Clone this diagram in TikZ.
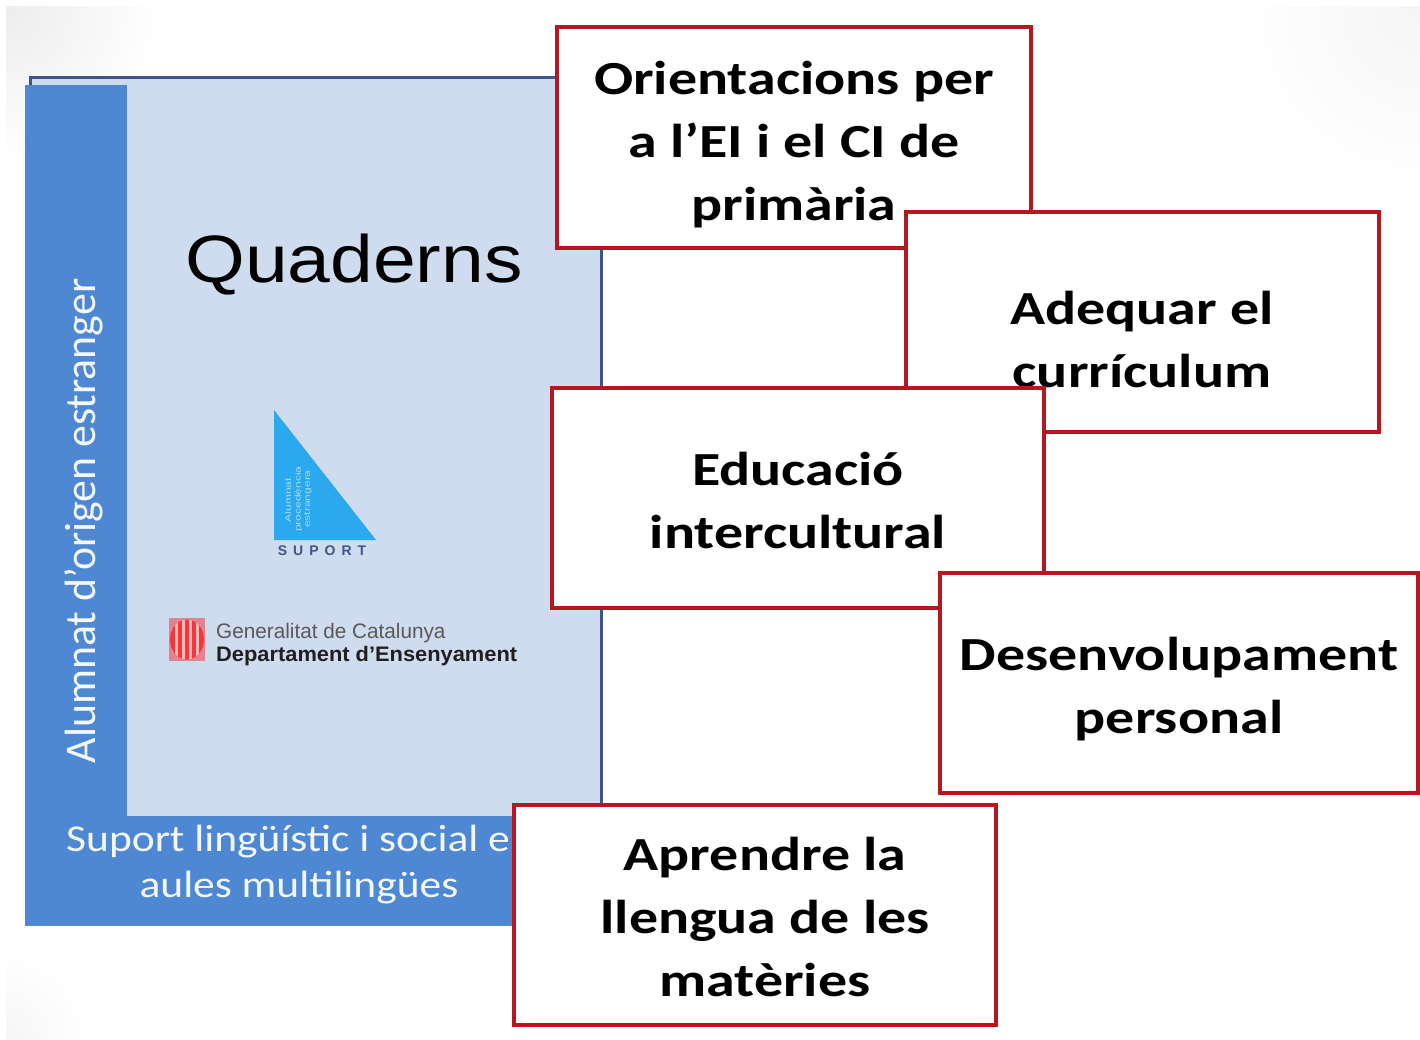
\documentclass[tikz,border=0pt]{standalone}
\usepackage{fontspec}
\setmainfont{Carlito}
\newfontfamily\boxf[FakeStretch=1.22]{Carlito}
\newfontfamily\panelf[FakeStretch=1.145]{Carlito}
\newfontfamily\quadf[FakeStretch=1.147]{Liberation Sans}
\newfontfamily\genf[FakeStretch=0.987]{Liberation Sans}
\newfontfamily\depf[FakeStretch=1.04]{Liberation Sans}
\newfontfamily\arialf{Liberation Sans}
\newfontfamily\tinyf[FakeStretch=1.5]{Liberation Sans}
\definecolor{panelblue}{HTML}{4F88D2}
\definecolor{panellight}{HTML}{CFDBEE}
\definecolor{edgeblue}{HTML}{3F5489}
\definecolor{boxred}{HTML}{B5161F}
\definecolor{triblue}{HTML}{2BA9EE}
\definecolor{cornergrey}{HTML}{EDEDED}
\definecolor{cornerpale}{HTML}{F5F5F5}
\tikzset{
  redbox/.style={draw=boxred,line width=3.3pt,fill=white,inner sep=0pt,rectangle},
  boxtext/.style={font=\boxf\fontsize{47.5}{63}\selectfont\bfseries,text=black,align=center,inner sep=0pt},
  paneltext/.style={font=\panelf\fontsize{38}{47}\selectfont,text=white!93!panelblue,inner sep=0pt},
  tinytext/.style={font=\tinyf\fontsize{8}{9}\selectfont,text=white!60!triblue,rotate=90,inner sep=0pt},
  edgeline/.style={draw=edgeblue,line width=3pt},
  cornerfade/.style={inner color=cornergrey,outer color=white},
  palefade/.style={inner color=cornerpale,outer color=white}
}
\begin{document}
\begin{tikzpicture}[x=1pt,y=-1pt]
\useasboundingbox (0,0) rectangle (1420,1040);
\fill[white] (0,0) rectangle (1420,1040);
\begin{scope}
  \clip (6,7) rectangle (1420,1040);
  \shade[cornerfade] (-140,-140) rectangle (160,160);
  \shade[palefade] (1240,-170) rectangle (1600,190);
  \shade[palefade] (-90,950) rectangle (90,1130);
\end{scope}
% cover panel
\fill[panellight] (30,77) rectangle (601,816);
\draw[edgeline] (30,86) -- (30,77.5) -- (601,77.5) -- (601,810);
\fill[panelblue] (25,85) rectangle (127,816);
\fill[panelblue] (25,816) rectangle (530,926);
\node[inner sep=0pt,text=white!93!panelblue,rotate=90,font=\fontsize{43.8}{47}\selectfont] (side) at (83.5,521) {Alumnat d’origen estranger};
\node[paneltext,anchor=base west] (sub1) at (66,851) {Suport lingüístic i social e};
\node[paneltext,anchor=base] (sub2) at (299,897) {aules multilingües};
\node[inner sep=0pt,text=black,font=\quadf\fontsize{67}{70}\selectfont,anchor=base] (title) at (354,283) {Quaderns};
% triangle logo
\fill[triblue] (274,410) -- (274,540) -- (376,540) -- cycle;
\node[tinytext] (t1) at (288,500) {Alumnat};
\node[tinytext] (t2) at (298.5,499) {procedència};
\node[tinytext] (t3) at (308,499) {estrangera};
\node[inner sep=0pt,text=edgeblue,font=\arialf\fontsize{14}{14}\selectfont\bfseries,anchor=base] (sup) at (322,555) {S\hspace{6pt}U\hspace{6pt}P\hspace{6pt}O\hspace{6pt}R\hspace{6pt}T};
% Generalitat emblem
\fill[red!40!panellight] (169,618) rectangle (205,661);
\begin{scope}
  \clip (187,639.5) ellipse (17 and 20);
  \fill[red!75!panellight] (169,618) rectangle (205,661);
  \foreach \xx in {176,183,190,197}{
    \fill[white!72!red] (\xx-1.5,618) rectangle ++(3,43);
  }
\end{scope}
\node[inner sep=0pt,text=black!65,font=\genf\fontsize{21}{21}\selectfont,anchor=base west] (gen) at (216,638) {Generalitat de Catalunya};
\node[inner sep=0pt,text=black!88,font=\depf\fontsize{21}{21}\selectfont\bfseries,anchor=base west] (dep) at (216,661) {Departament d’Ensenyament};
% boxes
\node[redbox,minimum width=474pt,minimum height=221pt] (b1) at (794,137.5) {};
\node[boxtext] (b1t) at (794,145) {Orientacions per\\a l’EI i el CI de\\primària};
\node[redbox,minimum width=473pt,minimum height=220pt] (b2) at (1142.5,322) {};
\node[boxtext] (b2t) at (1142,340) {Adequar el\\currículum};
\node[redbox,minimum width=492pt,minimum height=220pt] (b3) at (798,498) {};
\node[boxtext] (b3t) at (798,501) {Educació\\intercultural};
\node[redbox,minimum width=478pt,minimum height=220pt] (b4) at (1179,683) {};
\node[boxtext] (b4t) at (1179,689) {Desenvolupament\\personal};
\node[redbox,minimum width=482pt,minimum height=220pt] (b5) at (755,915) {};
\node[boxtext] (b5t) at (765,917) {Aprendre la\\llengua de les\\matèries};
\end{tikzpicture}
\end{document}
